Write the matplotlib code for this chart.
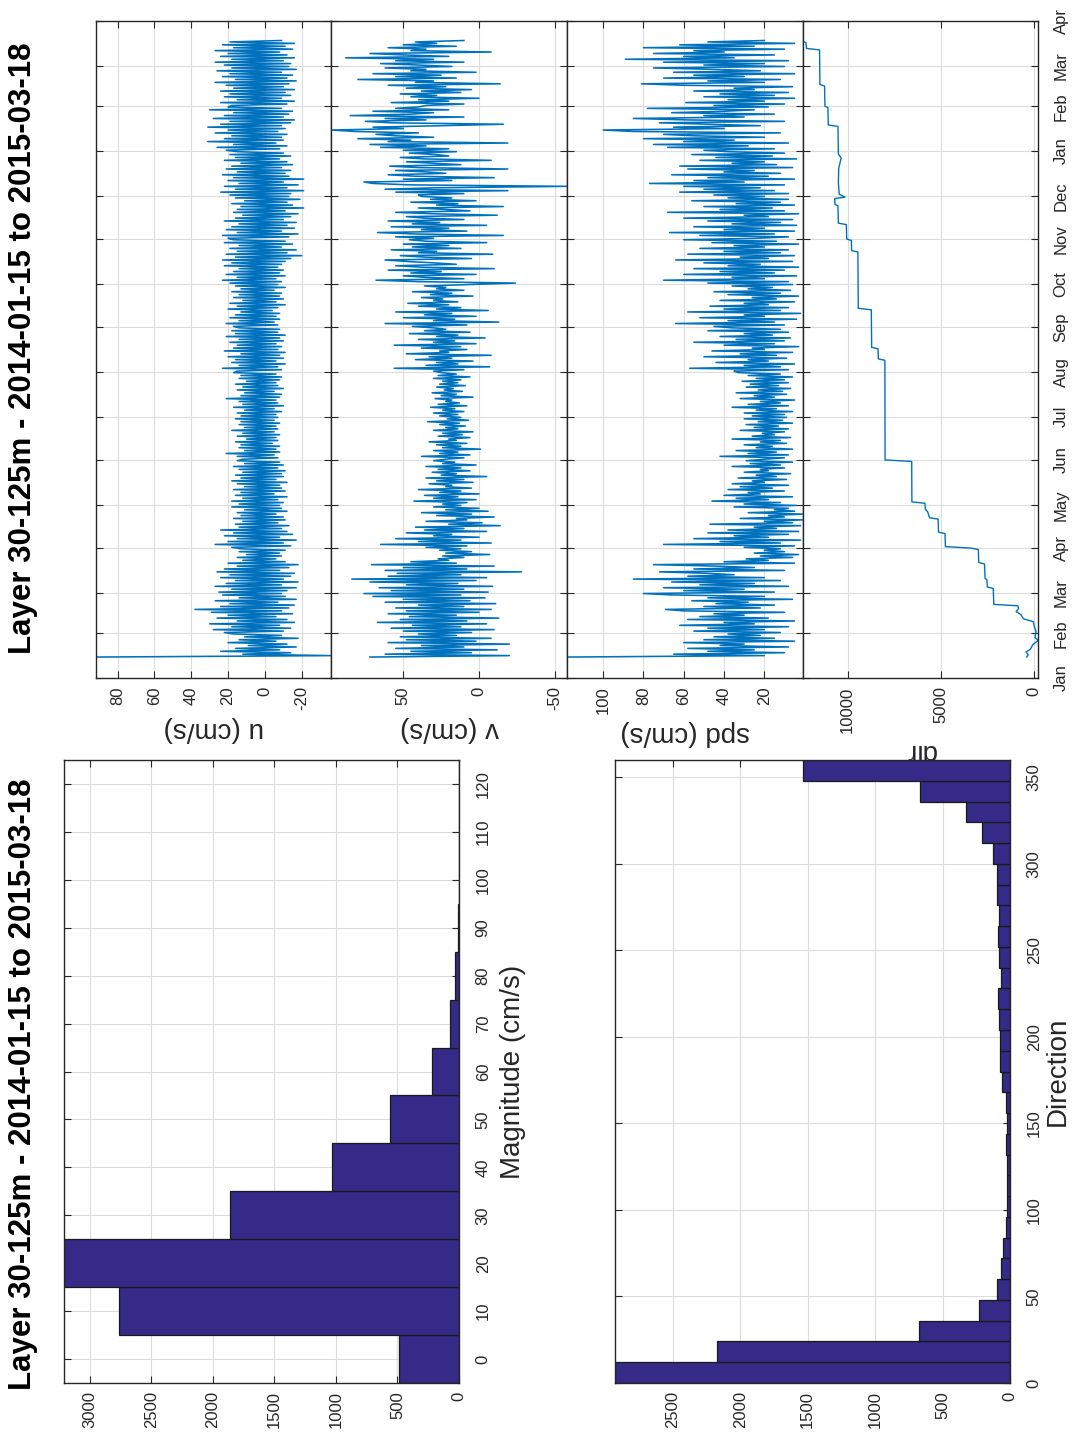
import numpy as np
import pandas as pd
import matplotlib
matplotlib.use("Agg")
import matplotlib.pyplot as plt
import matplotlib.dates as mdates

plt.rcParams['font.family'] = ['Liberation Sans', 'DejaVu Sans']
plt.rcParams['axes.unicode_minus'] = False

TITLE = "Layer 30-125m - 2014-01-15 to 2015-03-18"
BAR_COLOR = "#352a87"
LINE_COLOR = "#0072bd"
GRID_COLOR = "#dcdcdc"
EDGE_COLOR = "#262626"

# ---------------------------------------------------------------- data
# daily samples starting 2014-01-15 (u, v east/north components and speed, cm/s)
u_vals = [
    92, -36, 12, -14, 24, -8, 16, -17, 9, -12, 20, -6, 14, -18, 11, -9, 17,
    22, -10, 28, -14, 18, -8, 30, -16, 15, -12, 26, -6, 20, -15, 29, -9, 38, -13, 24, -16, 19, -7, 27, -17, 14, -11, 23, -9,
    25, -12, 18, -17, 27, -9, 21, -18, 16, -10, 24, -14, 19, -16, 26, -8, 22, -13, 15, -18, 20, -11, 12, -6, 15, -9, 10, -8, 14, -11, 13,
    18, -14, 27, -10, 20, -17, 15, -8, 22, -15, 17, -12, 24, -9, 14, -13, 16, -7, 12, -11, 17, -10, 13, -6, 15, -12, 11, -9, 18, -8,
    14, -10, 18, -7, 12, -12, 16, -5, 13, -11, 17, -9, 11, -8, 15, -12, 18, -6, 13, -10, 16, -9, 12, -11, 14, -7, 17, -10, 11, -8, 15,
    12, -7, 15, -5, 21, -8, 11, -6, 14, -8, 13, -4, 16, -7, 10, -6, 15, -8, 12, -5, 18, -7, 11, -6, 14, -8, 13, -5, 16, -7,
    13, -6, 15, -9, 11, -5, 17, -10, 12, -7, 14, -6, 21, -8, 13, -9, 11, -5, 15, -10, 12, -7, 16, -6, 10, -8, 14, -9, 13, -6, 17,
    15, -9, 23, -7, 14, -11, 18, -6, 16, -10, 20, -8, 13, -11, 22, -7, 17, -9, 15, -6, 19, -10, 14, -8, 21, -11, 16, -7, 18, -8, 14,
    17, -7, 21, -5, 14, -8, 19, -6, 16, -8, 13, -4, 20, -7, 15, -11, 19, -6, 12, -10, 17, -8, 14, -9, 18, -5, 13, -11, 16, -7,
    19, -9, 23, -6, 15, -11, 21, -8, 17, -10, 14, -7, 22, -9, 18, -11, 23, -14, 16, -20, 21, -12, 15, -17, 19, -9, 14, -15, 22, -11, 17,
    20, -13, 23, -18, 15, -9, 21, -16, 18, -12, 14, -17, 22, -10, 16, -14, 12, -18, 17, -11, 15, -21, 13, -15, 18, -12, 11, -19, 16, -13,
    19, -14, 24, -21, 16, -12, 22, -18, 14, -10, 20, -21, 17, -13, 23, -11, 15, -14, 21, -9, 18, -15, 13, -12, 22, -8, 16, -14, 19, -10, 15,
    21, -8, 26, -12, 17, -6, 31, -10, 22, -9, 18, -12, 27, -7, 20, -11, 31, -9, 24, -14, 19, -16, 28, -10, 22, -13, 17, -15, 30, -9, 20,
    18, -12, 24, -16, 15, -9, 22, -14, 19, -11, 24, -16, 17, -10, 21, -13, 27, -17, 16, -12, 23, -15, 19, -9, 26, -17, 18, -13,
    22, -14, 27, -10, 18, -16, 24, -12, 20, -8, 27, -15, 17, -11, 23, -16, 19, -9,
]
v_vals = [
    72, -20, 62, 5, 45, -12, 55, 10, 38, -20, 60, 2, 48, -8, 52, 15, 40,
    5, 50, -10, 58, 12, 44, -5, 67, 8, 52, -13, 46, 15, 60, 0, 48, -8, 55, 10, 40, -11, 62, 6, 50, -4, 70, 12, 76,
    -6, 58, 10, 66, -9, 48, 14, 72, 2, 84, -5, 60, 12, 54, -28, 62, 8, 50, -10, 71, 15, 45, 20, 27, 10, 24, -7, 22, 5, 26, 12,
    35, 8, 65, -8, 40, 12, 55, 0, 30, 18, 48, -5, 36, 10, 42, -14, 20, -2, 35, 8, 15, -10, 28, 5, 38, -6, 22, 0, 30, 12,
    24, 8, 43, 2, 30, 14, 36, 0, 26, 12, 40, 5, 22, 18, 33, 4, 28, 10, 35, -5, 25, 15, 31, 6, 27, 12, 35, 2, 24, 16, 30,
    22, 10, 38, 6, 26, 14, 30, -1, 24, 12, 28, 8, 33, 15, 20, 6, 27, 11, 24, 4, 30, 14, 22, 9, 26, 13, 34, 7, 21, 12,
    26, 14, 30, 10, 24, 16, 32, 8, 27, 13, 22, 18, 29, 4, 25, 15, 31, 11, 23, 17, 28, 9, 26, 14, 24, 12, 30, 6, 27, 15, 25,
    30, 10, 56, -7, 35, 14, 28, 4, 42, 18, 33, -8, 48, 20, 26, 8, 38, 12, 56, 2, 30, 16, 40, -4, 28, 14, 46, 6, 36, 22, 30,
    44, 8, 62, -13, 30, 16, 50, 2, 36, 18, 55, -6, 28, 12, 40, 20, 47, 14, 30, 24, 38, 4, 32, 18, 44, 10, 28, 22, 36, 6,
    -24, 40, 68, 10, 35, 50, 2, 45, 25, 60, -10, 38, 55, 15, 30, 48, 62, 5, 36, 52, -9, 40, 28, 58, 12, 44, 20, 50, -5, 35, 46,
    30, 55, -16, 42, 67, 8, 38, 20, 58, -5, 44, 26, 60, 10, 36, 48, -12, 30, 55, 6, 22, 40, -16, 28, 14, 45, 2, 32, 18, 38,
    40, 10, 55, -19, 62, 28, -58, 45, 70, 76, 18, 50, -10, 42, 60, 22, 35, 55, -19, 40, 59, 12, 30, 48, -8, 36, 52, 20, 28, 46, 15,
    50, 20, 65, 35, 72, -19, 60, 45, 80, 30, 55, 68, 40, 82, 97.6, 50, 70, 25, -16, 58, 75, 35, 62, 10, 85, 45, 30, 70, 20, 55, 40,
    35, 10, 58, 20, 40, 0, 45, 28, 52, 12, 38, 5, 48, 22, 60, -14, 42, 30, 80, 15, 55, 25, 70, 2, 45, 35, 62, 18,
    40, 65, 10, 55, 30, 88, 20, 50, 72, -8, 45, 35, 60, 15, 50, 28, 42, 10,
]
spd_vals = [
    118, 20, 65, 10, 48, 25, 58, 8, 42, 30, 60, 5, 50, 15, 45, 22, 38,
    12, 55, 20, 48, 8, 62, 25, 40, 5, 58, 18, 52, 30, 45, 10, 60, 69, 22, 50, 15, 44, 28, 56, 6, 48, 20, 65, 80,
    15, 60, 30, 70, 8, 52, 25, 66, 12, 85, 20, 58, 35, 48, 72, 10, 55, 25, 44, 75, 5, 40, 18, 29, 6, 22, 3, 25, 10, 20, 12,
    30, 5, 70, 12, 42, 2, 55, 18, 35, 8, 48, 3, 38, 14, 25, 2, 47, 6, 20, 1, 32, 10, 18, 1, 28, 5, 15, 8, 35, 4,
    30, 12, 46, 18, 34, 6, 40, 22, 28, 10, 38, 16, 32, 8, 36, 20, 26, 9, 33, 14, 24, 7, 30, 18, 22, 10, 36, 12, 27, 6, 29,
    20, 10, 42, 8, 28, 14, 34, 6, 24, 16, 30, 9, 22, 12, 36, 7, 26, 15, 21, 10, 32, 8, 25, 13, 29, 6, 23, 11, 30, 9,
    26, 10, 30, 6, 24, 14, 36, 8, 28, 12, 22, 5, 32, 15, 25, 9, 34, 11, 23, 7, 29, 13, 27, 8, 31, 10, 24, 6, 28, 12, 33,
    35, 8, 57, 12, 30, 5, 44, 18, 28, 9, 50, 14, 32, 6, 46, 20, 26, 3, 40, 15, 55, 10, 34, 7, 42, 16, 30, 8, 48, 12, 36,
    45, 10, 64, 15, 38, 4, 52, 20, 30, 2, 58, 12, 40, 8, 47, 18, 30, 5, 42, 14, 26, 3, 38, 12, 45, 7, 28, 16, 36, 6,
    48, 8, 70, 20, 36, 4, 60, 15, 42, 10, 55, 3, 38, 22, 50, 6, 64, 18, 32, 5, 58, 12, 40, 8, 52, 20, 35, 3, 46, 14, 60,
    25, 8, 52, 15, 67, 5, 40, 20, 55, 4, 36, 12, 48, 6, 60, 18, 30, 3, 68, 10, 42, 16, 50, 5, 34, 12, 56, 8, 38, 20,
    45, 8, 62, 15, 50, 22, 60, 10, 77, 30, 55, 5, 48, 18, 66, 12, 40, 25, 58, 6, 62, 14, 36, 20, 52, 4, 44, 16, 56, 10, 38,
    50, 15, 68, 28, 75, 8, 60, 35, 80, 20, 55, 70, 12, 85, 100, 40, 65, 22, 48, 72, 10, 58, 85, 30, 50, 15, 66, 40, 25, 78, 18,
    45, 10, 59, 20, 38, 5, 50, 15, 42, 8, 55, 25, 35, 6, 60, 81, 20, 48, 12, 70, 30, 55, 5, 65, 22, 45, 75, 10,
    50, 20, 70, 8, 89, 35, 60, 15, 75, 40, 55, 10, 80, 25, 62, 5, 48, 20,
]

# unwrapped (cumulative) direction, degrees
dir_times = [
    "2014-01-15 12:00", "2014-01-17", "2014-01-19", "2014-01-21", "2014-01-24", "2014-01-27",
    "2014-01-29", "2014-02-02", "2014-02-06", "2014-02-09", "2014-02-11", "2014-02-14",
    "2014-02-16", "2014-02-18", "2014-02-20", "2014-02-21", "2014-03-04", "2014-03-05",
    "2014-03-10", "2014-03-11", "2014-03-21", "2014-03-22", "2014-03-31", "2014-04-01",
    "2014-04-02", "2014-04-11", "2014-04-12", "2014-04-21", "2014-04-22", "2014-04-26",
    "2014-04-28", "2014-05-02", "2014-05-03", "2014-05-31", "2014-06-01", "2014-08-09",
    "2014-08-10", "2014-08-17", "2014-08-18", "2014-09-13", "2014-09-14", "2014-10-23",
    "2014-10-24", "2014-10-31", "2014-11-01", "2014-11-11", "2014-11-12", "2014-11-24",
    "2014-11-25", "2014-11-29", "2014-11-30", "2014-12-02", "2014-12-10", "2014-12-20",
    "2014-12-27", "2014-12-30", "2015-01-18", "2015-01-19", "2015-01-31", "2015-02-01",
    "2015-02-15", "2015-02-16", "2015-03-12", "2015-03-13", "2015-03-17", "2015-03-18",
]
dir_vals = [
    380, 300, 420, 180, 60, -240,
    -60, -120, -20, 30, 560, 700,
    950, 820, 860, 2150, 2180, 2500,
    2520, 2620, 2650, 2960, 2980, 3400,
    4750, 4770, 5120, 5140, 5600, 5700,
    5830, 5850, 6550, 6560, 7990, 8000,
    8350, 8370, 8710, 8730, 9430, 9450,
    9790, 9800, 10050, 10070, 10500, 10520,
    10680, 10700, 10140, 10450, 10500, 10480,
    10350, 10500, 10520, 11040, 11060, 11220,
    11240, 11490, 11510, 12210, 12240, 12420,
]

month_labels = ["Jan", "Feb", "Mar", "Apr", "May", "Jun", "Jul", "Aug",
                "Sep", "Oct", "Nov", "Dec", "Jan", "Feb", "Mar", "Apr"]

# speed histogram (10 cm/s bins centred on 0..120)
mag_centers = [0, 10, 20, 30, 40, 50, 60, 70, 80, 90, 100, 110, 120]
mag_counts = [489, 2763, 3209, 1858, 1028, 559, 223, 73, 33, 5, 0, 0, 0]

# direction histogram (12 degree bins over 0..360)
dir_counts = [2928, 2173, 676, 230, 99, 64, 50, 32, 25, 25, 20, 30, 20, 30, 57,
              74, 74, 79, 89, 69, 82, 89, 82, 99, 94, 129, 205, 329, 668, 1535]

# ---------------------------------------------------------------- layout
W, H = 1073, 1432
fig = plt.figure(figsize=(W / 100, H / 100), dpi=100)


def px_rect(x0, y0, x1, y1):
    return [x0 / W, 1 - y1 / H, (x1 - x0) / W, (y1 - y0) / H]


def style_axes(ax):
    for s in ax.spines.values():
        s.set_color(EDGE_COLOR)
        s.set_linewidth(1.0)
    ax.grid(True, color=GRID_COLOR, lw=0.8)
    ax.set_axisbelow(True)
    ax.tick_params(direction='in', length=5, width=0.8, colors=EDGE_COLOR,
                   labelcolor='#262626', labelsize=12, pad=6,
                   top=True, bottom=True, left=True, right=True)


month_starts = pd.date_range("2014-01-01", "2015-04-01", freq="MS")
month_nums = mdates.date2num(month_starts.to_pydatetime())
t_lo, t_hi = month_nums[0], month_nums[-1]


def day_times(vals):
    return pd.date_range("2014-01-15 12:00", periods=len(vals), freq="D")


series = [
    (u_vals, day_times(u_vals), "u (cm/s)", [-20, 0, 20, 40, 60, 80]),
    (v_vals, day_times(v_vals), "v (cm/s)", [-50, 0, 50]),
    (spd_vals, day_times(spd_vals), "spd (cm/s)", [20, 40, 60, 80, 100]),
    (dir_vals, pd.to_datetime(dir_times, format="ISO8601"), "dir", [0, 5000, 10000]),
]
edges = [95.5, 331.2, 566.9, 802.6, 1038.3]

for i, (vals, times, label, ticks) in enumerate(series):
    ax = fig.add_axes(px_rect(edges[i], 21, edges[i + 1], 678))
    # time runs upward, values grow to the left
    ax.plot(vals, mdates.date2num(times.to_pydatetime()), color=LINE_COLOR,
            lw=1.0 if i == 3 else 1.15)
    ax.set_xlim(max(vals), min(vals))
    ax.set_ylim(t_lo, t_hi)
    ax.set_xticks(ticks)
    ax.set_xticklabels([str(t) for t in ticks], rotation=90)
    ax.set_yticks(month_nums)
    style_axes(ax)
    if i == 3:
        ax.yaxis.tick_right()
        ax.tick_params(axis='y', left=True, right=True, labelleft=False,
                       labelright=True, pad=11)
        ax.set_yticklabels(month_labels, rotation=90, va='center')
    else:
        ax.set_yticklabels([])
    ax.set_xlabel(label, rotation=180, fontsize=20, color='#262626', labelpad=4)


def histogram_axes(rect, centers, counts, width, ylim, xticks, yticks, label,
                   labelpad):
    ax = fig.add_axes(px_rect(*rect))
    ax.barh(centers, counts, height=width, color=BAR_COLOR,
            edgecolor='#1a1a1a', lw=0.9, zorder=2)
    ax.set_xlim(max(counts), 0)
    ax.set_ylim(*ylim)
    ax.set_xticks(xticks)
    ax.set_xticklabels([str(t) for t in xticks], rotation=90)
    ax.set_yticks(yticks)
    style_axes(ax)
    ax.yaxis.tick_right()
    ax.tick_params(axis='y', left=True, right=True, labelleft=False,
                   labelright=True, pad=12)
    ax.set_yticklabels([str(t) for t in yticks], rotation=90, va='center')
    ax.yaxis.set_label_position('right')
    ax.set_ylabel(label, rotation=90, fontsize=20, color='#262626',
                  labelpad=labelpad)
    return ax


# speed histogram
histogram_axes((64, 760, 459, 1383), mag_centers, mag_counts, 10, (-5, 125),
               list(range(0, 3001, 500)), list(range(0, 121, 10)),
               "Magnitude (cm/s)", 7)

# direction histogram
dir_centers = np.arange(6, 360, 12)
histogram_axes((615, 760, 1010, 1383), dir_centers, dir_counts, 12, (0, 360),
               list(range(0, 2501, 500)), list(range(0, 351, 50)),
               "Direction", 2)

# titles
for yc in (348, 1084):
    fig.text(23 / W, 1 - yc / H, TITLE, rotation=90, ha='center', va='center',
             fontsize=22.5, fontweight='bold')

fig.savefig("out.png", dpi=100, facecolor='white')
